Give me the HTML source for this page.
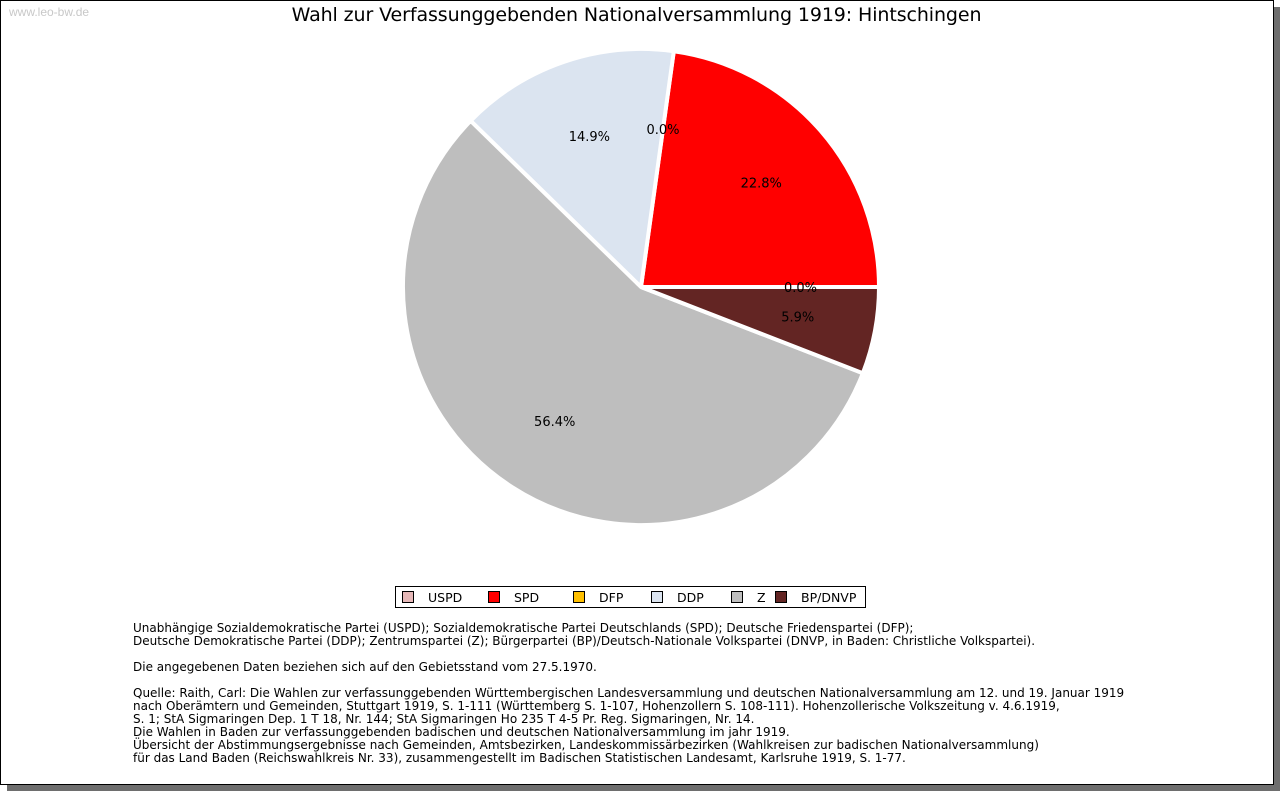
<!DOCTYPE html>
<html><head><meta charset="utf-8"><style>
body{margin:0;width:1280px;height:791px;background:#fff;position:relative;overflow:hidden;font-family:"DejaVu Sans",Verdana,sans-serif}
#shadow{position:absolute;left:7px;top:7px;width:1273px;height:784px;background:#6e6e6e}
#frame{position:absolute;left:0;top:0;width:1272px;height:783px;background:#fff;border:1px solid #000}
.t{position:absolute;white-space:pre;color:#000}
#notes{position:absolute;left:133px;top:622px;font-size:12px;line-height:13px;white-space:pre}
#legend{position:absolute;left:395px;top:586px;width:469px;height:20px;border:1px solid #000;background:#fff;font-size:12.5px}
.li{position:absolute;top:4px;height:14px;line-height:14px}
.sw{display:inline-block;width:10px;height:10px;border:1px solid #000;vertical-align:-1px;margin-right:14px}
</style></head><body>
<div id="shadow"></div>
<div id="frame"></div>
<div class="t" style="left:9px;top:5px;font-size:12px;color:#c8c8c8;font-family:'Liberation Sans',sans-serif">www.leo-bw.de</div>
<div class="t" style="left:0;width:1273px;text-align:center;top:4px;font-size:19px;letter-spacing:-0.1px">Wahl zur Verfassunggebenden Nationalversammlung 1919: Hintschingen</div>
<svg id="pie" width="1280" height="580" style="position:absolute;left:0;top:0"></svg>
<div id="legend"></div>
<div id="notes">Unabhängige Sozialdemokratische Partei (USPD); Sozialdemokratische Partei Deutschlands (SPD); Deutsche Friedenspartei (DFP);
Deutsche Demokratische Partei (DDP); Zentrumspartei (Z); Bürgerpartei (BP)/Deutsch-Nationale Volkspartei (DNVP, in Baden: Christliche Volkspartei).

Die angegebenen Daten beziehen sich auf den Gebietsstand vom 27.5.1970.

Quelle: Raith, Carl: Die Wahlen zur verfassunggebenden Württembergischen Landesversammlung und deutschen Nationalversammlung am 12. und 19. Januar 1919
nach Oberämtern und Gemeinden, Stuttgart 1919, S. 1-111 (Württemberg S. 1-107, Hohenzollern S. 108-111). Hohenzollerische Volkszeitung v. 4.6.1919,
S. 1; StA Sigmaringen Dep. 1 T 18, Nr. 144; StA Sigmaringen Ho 235 T 4-5 Pr. Reg. Sigmaringen, Nr. 14.
Die Wahlen in Baden zur verfassunggebenden badischen und deutschen Nationalversammlung im jahr 1919.
Übersicht der Abstimmungsergebnisse nach Gemeinden, Amtsbezirken, Landeskommissärbezirken (Wahlkreisen zur badischen Nationalversammlung)
für das Land Baden (Reichswahlkreis Nr. 33), zusammengestellt im Badischen Statistischen Landesamt, Karlsruhe 1919, S. 1-77.</div>
<script>
const parties=["USPD","SPD","DFP","DDP","Z","BP/DNVP"];
const shares=[0.0,22.8,0.0,14.9,56.4,5.9];
const colors=["#e6b8b8","#ff0000","#ffc000","#dbe4f0","#bebebe","#632523"];
const NS="http://www.w3.org/2000/svg";
const svg=document.getElementById('pie');
const cx=641,cy=287,r=238;
const total=shares.reduce((a,b)=>a+b,0);
let a0=0;
shares.forEach((v,i)=>{
  const sweep=v/total*2*Math.PI, a1=a0+sweep;
  if(v>0){
    const p=document.createElementNS(NS,'path');
    const x0=cx+r*Math.cos(a0),y0=cy-r*Math.sin(a0),x1=cx+r*Math.cos(a1),y1=cy-r*Math.sin(a1);
    p.setAttribute('d',`M${cx},${cy}L${x0},${y0}A${r},${r} 0 ${sweep>Math.PI?1:0} 0 ${x1},${y1}Z`);
    p.setAttribute('fill',colors[i]);p.setAttribute('stroke','#fff');p.setAttribute('stroke-width','4');
    
    
    svg.appendChild(p);
  }
  a0=a1;
});
a0=0;
shares.forEach((v,i)=>{
  const sweep=v/total*2*Math.PI, m=a0+sweep/2;
  const t=document.createElementNS(NS,'text');
  t.setAttribute('x',cx+0.67*r*Math.cos(m));t.setAttribute('y',cy-0.67*r*Math.sin(m)+5);
  t.setAttribute('text-anchor','middle');t.setAttribute('font-size','13');
  t.setAttribute('font-family','DejaVu Sans, sans-serif');
  t.textContent=v.toFixed(1)+'%';
  
  
  svg.appendChild(t);
  a0+=sweep;
});
const lg=document.getElementById('legend');
const lx=[6,92,177,255,335,379];
parties.forEach((p,i)=>{
  const d=document.createElement('div');d.className='li';d.style.left=lx[i]+'px';
  d.innerHTML=`<span class="sw" style="background:${colors[i]}"></span>${p}`;
  
  
  lg.appendChild(d);
});
</script>
</body></html>
